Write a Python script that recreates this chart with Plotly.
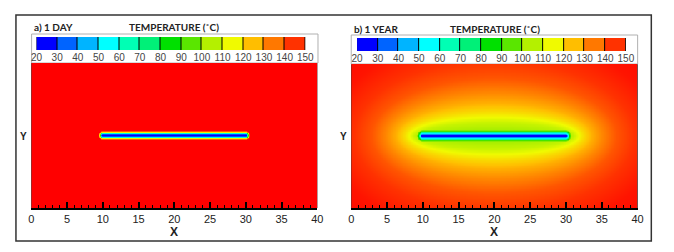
import numpy as np
import plotly.graph_objects as go

# ---------------- data ----------------
band_levels = [20, 30, 40, 50, 60, 70, 80, 90, 100, 110, 120, 130, 140, 150]
band_colors = ["#0000ff", "#0064ff", "#00b4ff", "#00ffff", "#00ffb4", "#00f078",
               "#00e000", "#5ae600", "#b4f000", "#f0fa00", "#ffbe00", "#ff7800", "#ff3200"]
max_color = "#ff0000"

frac_start, frac_end = 10.0, 30.0          # fracture ends (x units)
x_ticks = [0, 5, 10, 15, 20, 25, 30, 35, 40]

# temperature vs. distance from the fracture (near field, read along the mid-line)
day_dist = [0, 0.14, 0.22, 0.32, 0.42, 0.52, 0.62, 5.0]
day_temp = [20, 30, 50, 80, 110, 135, 150, 150]
year_dist = [0, 0.15, 0.25, 0.4, 0.55, 0.75, 1.1, 5.0]
year_temp = [20, 25, 40, 60, 85, 100, 150, 150]
# far-field (elliptical) temperature vs. semi-minor axis of the isotherm
year_far_dist = [0, 1.0, 1.8, 2.6, 3.3, 4.5, 6.0, 8.0, 10.5, 14, 20, 80]
year_far_temp = [100, 104, 108, 115, 120, 127, 133, 140, 145, 148, 150, 150]
year_tip = 1.0                              # tip rounding of the far isotherms

# ---------------- grid / field ----------------
xc = np.arange(0.05, 40, 0.1)
yc = np.arange(-9.95, 10, 0.1)
X, Y = np.meshgrid(xc, yc)
mid = 0.5 * (frac_start + frac_end)
half = 0.5 * (frac_end - frac_start)

# distance to the fracture segment
dxs = np.maximum(np.abs(X - mid) - half, 0)
dist = np.hypot(dxs, Y)


def ellipse_param(tip):
    dx = X - mid
    lo = np.full(X.shape, 1e-6)
    hi = np.full(X.shape, 80.0)
    for _ in range(60):
        b = 0.5 * (lo + hi)
        a = half + b * b / (b + tip)
        f = (dx / a) ** 2 + (Y / b) ** 2 - 1
        lo = np.where(f > 0, b, lo)
        hi = np.where(f > 0, hi, b)
    return 0.5 * (lo + hi)


z_day = np.round(np.interp(dist, day_dist, day_temp), 1)
z_year = np.round(np.minimum(np.interp(dist, year_dist, year_temp),
                             np.interp(ellipse_param(year_tip), year_far_dist, year_far_temp)), 1)

# colour scale built from the legend bands
cmin, cmax = band_levels[0], band_levels[-1]
centers = [(band_levels[i] + band_levels[i + 1]) / 2 for i in range(len(band_colors))]
cscale = [[0.0, band_colors[0]]]
for c, col in zip(centers, band_colors):
    cscale.append([(c - cmin) / (cmax - cmin), col])
cscale.append([1.0, max_color])

# the page body adds an 8 px margin: lay out in window pixels minus that offset
OFF = 8
W, H = 674 - OFF, 252 - OFF


def px(x):
    return (x - OFF) / W


def py(y):
    return 1 - (y - OFF) / H


fig = go.Figure()

panels = [
    dict(z=z_day, xd=[25.7, 318.3], yd=[63, 208], cb=[31, 306], cby=[37, 50],
         frame=[26, 34, 319, 63], title="a) 1 DAY", ty=27, tcx=172),
    dict(z=z_year, xd=[353, 646], yd=[64, 208], cb=[359, 634], cby=[38, 51],
         frame=[353, 35, 646, 64], title="b) 1 YEAR", ty=29, tcx=500),
]

shapes = [dict(type="rect", xref="paper", yref="paper", x0=px(10), x1=px(660),
               y0=py(241), y1=py(15), line=dict(color="#333333", width=1.5), layer="below")]
annotations = []

for i, p in enumerate(panels):
    k = 2 * i + 1
    xa, ya = f"x{k}", f"y{k}"
    xb, yb = f"x{k + 1}", f"y{k + 1}"
    fig.add_trace(go.Heatmap(x=xc, y=yc, z=p["z"], colorscale=cscale, zmin=cmin, zmax=cmax,
                             showscale=False, xaxis=xa, yaxis=ya, hoverinfo="skip"))
    fig.add_trace(go.Heatmap(x=centers, y=[0.5], z=[centers], colorscale=cscale, zmin=cmin,
                             zmax=cmax, showscale=False, xgap=1, xaxis=xb, yaxis=yb,
                             hoverinfo="skip"))
    nm = "" if k == 1 else str(k)
    nb = str(k + 1)
    fig.layout["xaxis" + nm] = dict(
        domain=[px(p["xd"][0]), px(p["xd"][1])], range=[0, 40], anchor=ya,
        tickvals=x_ticks, ticks="inside", ticklen=6, tickwidth=1.5, tickcolor="black",
        showline=True, linecolor="black", linewidth=1.5, mirror=False,
        minor=dict(dtick=1, ticks="inside", ticklen=3, tickcolor="black", tickwidth=1),
        tickfont=dict(family="Liberation Sans", size=11, color="#222222"),
        showgrid=False, zeroline=False, fixedrange=True)
    fig.layout["yaxis" + nm] = dict(
        domain=[py(p["yd"][1]), py(p["yd"][0])], range=[-10, 10], anchor=xa,
        showticklabels=False, ticks="", showgrid=False, zeroline=False, showline=False)
    fig.layout["xaxis" + nb] = dict(
        domain=[px(p["cb"][0]), px(p["cb"][1])], range=[cmin, cmax], anchor=yb,
        tickvals=band_levels, ticks="", showline=False, showgrid=False, zeroline=False,
        tickfont=dict(family="Liberation Sans", size=10, color="#444444"))
    fig.layout["yaxis" + nb] = dict(
        domain=[py(p["cby"][1]), py(p["cby"][0])], range=[0, 1], anchor=xb,
        showticklabels=False, showgrid=False, zeroline=False, showline=False)

    f = p["frame"]
    shapes.append(dict(type="rect", xref="paper", yref="paper", x0=px(f[0]), x1=px(f[2]),
                       y0=py(f[3]), y1=py(f[1]), line=dict(color="#b0b0b0", width=1),
                       layer="below"))
    annotations.append(dict(text="<b>" + p["title"] + "</b>", xref="paper", yref="paper",
                            x=px(p["xd"][0] + 1), y=py(p["ty"]), xanchor="left",
                            yanchor="middle", showarrow=False,
                            font=dict(family="Lato", size=10, color="#222222")))
    annotations.append(dict(text="<b>TEMPERATURE (˚C)</b>", xref="paper", yref="paper",
                            x=px(p["tcx"]), y=py(p["ty"]), xanchor="center",
                            yanchor="middle", showarrow=False,
                            font=dict(family="Lato", size=10, color="#222222")))
    annotations.append(dict(text="<b>Y</b>", xref="paper", yref="paper",
                            x=px(p["xd"][0] - 8), y=py(136), xanchor="center",
                            yanchor="middle", showarrow=False,
                            font=dict(family="Liberation Sans", size=10, color="#222222")))
    annotations.append(dict(text="<b>X</b>", xref="paper", yref="paper",
                            x=px((p["xd"][0] + p["xd"][1]) / 2), y=py(232), xanchor="center",
                            yanchor="middle", showarrow=False,
                            font=dict(family="Liberation Sans", size=12, color="#222222")))

fig.update_layout(width=W, height=H, margin=dict(l=0, r=0, t=0, b=0),
                  paper_bgcolor="white", plot_bgcolor="black", showlegend=False,
                  shapes=shapes, annotations=annotations)

fig.write_html("out.html")
